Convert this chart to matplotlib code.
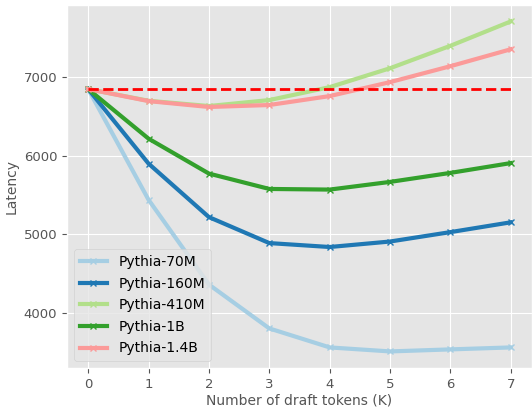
import numpy as np
import matplotlib.pyplot as plt

plt.style.use('ggplot')

k = [0, 1, 2, 3, 4, 5, 6, 7]
models = ['Pythia-70M', 'Pythia-160M', 'Pythia-410M', 'Pythia-1B', 'Pythia-1.4B']
lat_70m = [6848, 5437, 4356, 3797, 3555, 3504, 3530, 3555]
lat_160m = [6848, 5898, 5216, 4885, 4835, 4905, 5025, 5150]
lat_410m = [6848, 6699, 6632, 6708, 6873, 7114, 7400, 7711]
lat_1b = [6848, 6216, 5771, 5575, 5567, 5665, 5780, 5905]
lat_14b = [6848, 6695, 6620, 6645, 6759, 6937, 7140, 7356]
baseline = 6848

colors = plt.cm.Paired(np.arange(5))

fig = plt.figure(figsize=(5.32, 4.07), dpi=100)
ax = fig.add_axes([0.126, 0.096, 0.874, 0.892])

for name, vals, c in zip(models, [lat_70m, lat_160m, lat_410m, lat_1b, lat_14b], colors):
    ax.plot(k, vals, color=c, lw=3, marker='x', ms=4, label=name)

ax.plot(k, [baseline] * len(k), color='red', ls='--', lw=2)

ax.set_xlabel('Number of draft tokens (K)', fontsize=10, labelpad=2)
ax.set_ylabel('Latency', fontsize=10)
ax.set_yticks([4000, 5000, 6000, 7000])
ax.tick_params(labelsize=9.5)
ax.legend(loc='lower left', fontsize=10, labelspacing=0.55)

fig.savefig('out.png', dpi=100)
